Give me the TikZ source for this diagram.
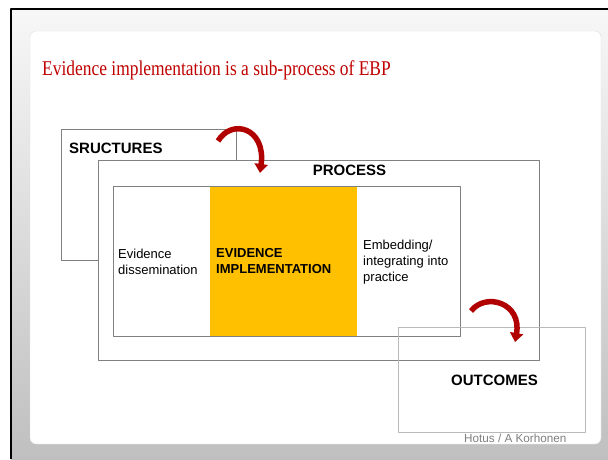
\documentclass[tikz,border=0pt]{standalone}
\usepackage{fontspec}
\setmainfont{Liberation Sans}
\newfontfamily\titlefont{Liberation Serif}
\usetikzlibrary{arrows.meta}
\definecolor{slidered}{RGB}{192,0,0}
\definecolor{arrowred}{RGB}{176,0,0}
\definecolor{boxgray}{RGB}{128,128,128}
\definecolor{evyellow}{RGB}{255,192,0}

\begin{document}
\begin{tikzpicture}[x=1pt,y=-1pt,line join=round,>={Triangle[width=13pt,length=9pt]}]
		\tikzset{box/.style={draw=boxgray,line width=0.8pt},
			lbl/.style={inner sep=0pt,anchor=north west,align=left,font=\fontsize{13}{16}\selectfont},
			head/.style={inner sep=0pt,anchor=base west,font=\fontsize{15}{18}\selectfont\bfseries},
			turn/.style={->,draw=arrowred,line width=5.5pt}}
		\useasboundingbox (0,0) rectangle (608,459);
		% slide background
		\shade[top color=gray!6,bottom color=gray!50] (11,9) rectangle (608,459);
		\draw[line width=1.5pt] (11,459)--(11,9)--(608,9);
		\draw[draw=gray!25,fill=white,rounded corners=6pt] (30,31) rectangle (601,444);
		\node[inner sep=0pt,anchor=base west,text=slidered,font=\titlefont\fontsize{21}{24}\selectfont] (title) at (42,75) {\scalebox{0.83}[1]{Evidence implementation is a sub-process of EBP}};
		% boxes
		\draw[box] (61,129) rectangle (236,260);
		\draw[box,fill=white] (98,160) rectangle (539,360);
		\fill[evyellow] (210,186) rectangle (357,336);
		\draw[box] (113,186) rectangle (460,336);
		\draw[draw=gray!55,line width=0.8pt] (398,327) rectangle (585,432);
		% labels
		\node[head] (structures) at (69,153) {SRUCTURES};
		\node[head,anchor=base] (process) at (349.5,175) {PROCESS};
		\node[head] (outcomes) at (451,385) {OUTCOMES};
		\node[lbl] (dissem) at (118,248.5) {Evidence\\dissemination};
		\node[lbl,font=\fontsize{13}{16}\selectfont\bfseries] (implem) at (216,248.5) {EVIDENCE\\IMPLEMENTATION};
		\node[lbl] (embed) at (363,240) {Embedding/\\integrating into\\practice};
		\node[inner sep=0pt,anchor=base west,text=gray,font=\fontsize{11.7}{14}\selectfont] (credit) at (464,442) {Hotus / A Korhonen};
		% turning arrows
		\coordinate (s1) at (218,141);
		\coordinate (e1) at (260,173);
		\coordinate (s2) at (471,311);
		\coordinate (e2) at (515,342);
		\draw[turn] (s1) .. controls (232,118) and (266,128) .. (e1);
		\draw[turn] (s2) .. controls (486,292) and (522,303) .. (e2);
		
		\end{tikzpicture}
\end{document}
